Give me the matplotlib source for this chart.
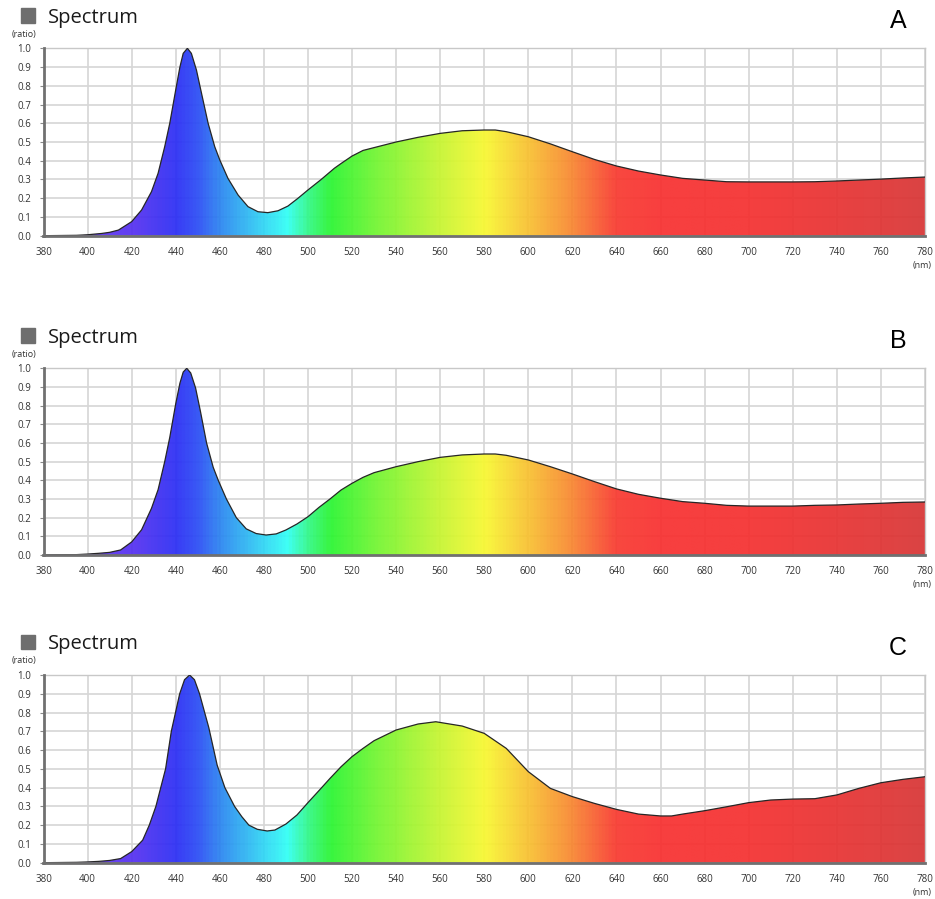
import numpy as np
import matplotlib
matplotlib.use("Agg")
import matplotlib.pyplot as plt
from matplotlib.colors import LinearSegmentedColormap
from matplotlib.patches import Rectangle, Polygon

plt.rcParams['font.family'] = ['Open Sans', 'DejaVu Sans']

# ---------------- data ----------------
wl_a = [380, 395, 400, 406.4, 410, 414, 420, 424.5, 429, 432, 435, 437.3, 440, 441.9, 443.4, 445.3,
        447.1, 449.4, 451.7, 454.7, 457.7, 460, 463.7, 468.3, 472.8, 477.3, 481.8, 486.4, 490.9,
        495.4, 500, 506, 512, 515, 520, 525, 530, 540, 550, 560, 570, 580, 585, 590, 600, 610,
        620, 630, 640, 650, 660, 670, 680, 690, 700, 710, 720, 730, 740, 750, 760, 770, 780]
val_a = [0.0, 0.002, 0.005, 0.012, 0.018, 0.03, 0.075, 0.137, 0.235, 0.333, 0.475, 0.60, 0.778, 0.90, 0.973, 1.0,
         0.973, 0.884, 0.76, 0.60, 0.475, 0.404, 0.306, 0.217, 0.155, 0.128, 0.123, 0.133, 0.158,
         0.199, 0.244, 0.30, 0.36, 0.385, 0.425, 0.455, 0.47, 0.50, 0.525, 0.546, 0.56, 0.564, 0.564, 0.555, 0.528, 0.49,
         0.448, 0.407, 0.372, 0.345, 0.324, 0.306, 0.297, 0.288, 0.287, 0.287, 0.287, 0.288, 0.292, 0.297, 0.302, 0.308, 0.313]

wl_b = [380, 395, 400, 405, 410, 415, 420, 424.5, 429, 432, 435, 437.3, 440, 441.9, 443.4, 445, 446.8,
        449, 451.2, 454, 457, 459.3, 463, 467.5, 472, 476.5, 481, 485.6, 490, 495, 500, 505, 510, 515,
        520, 525, 530, 540, 550, 560, 570, 580, 585, 590, 600, 610, 620, 630, 640, 650, 660, 670, 680,
        690, 700, 710, 720, 730, 740, 750, 760, 770, 780]
val_b = [0.0, 0.002, 0.005, 0.009, 0.014, 0.027, 0.07, 0.135, 0.25, 0.35, 0.50, 0.63, 0.81, 0.92, 0.98, 1.0, 0.975,
         0.895, 0.77, 0.60, 0.47, 0.40, 0.30, 0.20, 0.14, 0.115, 0.107, 0.113, 0.134, 0.166, 0.205, 0.255, 0.30, 0.348,
         0.384, 0.416, 0.441, 0.473, 0.50, 0.523, 0.536, 0.541, 0.541, 0.534, 0.509, 0.473, 0.434, 0.393, 0.354, 0.325, 0.304, 0.286, 0.277,
         0.266, 0.262, 0.262, 0.262, 0.266, 0.268, 0.273, 0.277, 0.282, 0.284]

wl_c = [380, 395, 400, 405, 410, 415, 420, 425, 428, 431, 435.4, 438, 441.8, 444, 446.3, 448.5, 450.8,
        455, 458.8, 462.3, 466.7, 470, 473.2, 477, 481.5, 485, 490, 495, 500, 505, 510, 515, 520, 525,
        530, 540, 550, 558, 570, 580, 590, 600, 610, 620, 630, 640, 650, 660, 665, 670, 680, 690, 700,
        710, 720, 730, 740, 750, 760, 770, 780]
val_c = [0.0, 0.002, 0.004, 0.007, 0.012, 0.022, 0.059, 0.12, 0.2, 0.3, 0.5, 0.7, 0.9, 0.975, 1.0, 0.975, 0.9,
         0.72, 0.52, 0.4, 0.3, 0.245, 0.2, 0.178, 0.169, 0.174, 0.206, 0.254, 0.32, 0.384, 0.449, 0.511, 0.565, 0.609,
         0.65, 0.707, 0.739, 0.751, 0.728, 0.689, 0.609, 0.485, 0.396, 0.352, 0.316, 0.284, 0.259, 0.249, 0.249, 0.259, 0.277, 0.298, 0.32,
         0.334, 0.339, 0.341, 0.361, 0.396, 0.426, 0.444, 0.458]

panels = [("A", wl_a, val_a), ("B", wl_b, val_b), ("C", wl_c, val_c)]

x_ticks = list(range(380, 781, 20))
y_ticks = [round(0.1 * i, 1) for i in range(11)]

# spectral colour stops (nm, colour)
stops_nm = [380, 420, 440, 450, 460, 480, 490, 500, 510, 530, 560, 580, 600, 620, 640, 660, 700, 740, 780]
stops_col = ['#6a3af0', '#5530f0', '#2a2ef5', '#2a50f5', '#2a88f0', '#30d8f5', '#30fff5', '#30f880',
             '#2af530', '#70f530', '#c8f530', '#f8f830', '#f8c030', '#f88530', '#f83a30', '#f83030',
             '#f53030', '#e83232', '#d83535']

cmap = LinearSegmentedColormap.from_list(
    "spec", [((n - 380) / 400.0, c) for n, c in zip(stops_nm, stops_col)])

W, H = 935, 899
fig = plt.figure(figsize=(W / 100, H / 100), dpi=100)

axes_px = [(48.3, 235.7), (368.3, 555.0), (675.0, 862.7)]
left_px, right_px = 43.5, 925.0

for (label, wl, val), (top, bot) in zip(panels, axes_px):
    ax = fig.add_axes([left_px / W, 1 - bot / H, (right_px - left_px) / W, (bot - top) / H])
    ax.set_xlim(380, 780)
    ax.set_ylim(0, 1.0)
    ax.set_xticks(x_ticks)
    ax.set_yticks(y_ticks)
    ax.set_yticklabels([f"{v:.1f}" for v in y_ticks])
    ax.grid(True, color='#d6d6d6', lw=1.2, zorder=0)
    ax.set_axisbelow(True)
    ax.tick_params(axis='x', length=0, pad=8, labelsize=7, labelcolor='#333333')
    ax.tick_params(axis='y', length=3, width=0.8, color='#888888', pad=6, labelsize=7, labelcolor='#333333')
    for s in ['top', 'right']:
        ax.spines[s].set_color('#c8c8c8')
        ax.spines[s].set_linewidth(1.0)
    for s in ['left', 'bottom']:
        ax.spines[s].set_color('#707070')
        ax.spines[s].set_linewidth(2.0)
        ax.spines[s].set_zorder(5)

    # gradient fill clipped to the area under the curve
    grad = np.linspace(0, 1, 800).reshape(1, -1)
    im = ax.imshow(grad, extent=(380, 780, 0, 1), aspect='auto', cmap=cmap,
                   origin='lower', alpha=0.93, zorder=2, interpolation='bilinear')
    verts = [(wl[0], 0)] + list(zip(wl, val)) + [(wl[-1], 0)]
    poly = Polygon(verts, closed=True, facecolor='none', edgecolor='none', transform=ax.transData)
    ax.add_patch(poly)
    im.set_clip_path(poly)
    ax.plot(wl, val, color='#262626', lw=0.9, zorder=3, solid_joinstyle='round')

    # header
    fig.patches.append(Rectangle((20.7 / W, 1 - (top - 25.6) / H), 14.3 / W, 14.3 / H,
                                 transform=fig.transFigure, color='#6e6e6e', figure=fig))
    fig.text(48 / W, 1 - (top - 25.5) / H, "Spectrum", fontsize=14.5, color='#1a1a1a', va='baseline')
    fig.text(24 / W, 1 - (top - 14) / H, "(ratio)", fontsize=6.5, color='#333333', ha='center', va='center')
    fig.text(922 / W, 1 - (bot + 30) / H, "(nm)", fontsize=6.5, color='#333333', ha='center', va='center')
    fig.text(898 / W, 1 - (top - 27) / H, label, fontsize=18, color='black', ha='center', va='center',
             family=['Liberation Sans', 'DejaVu Sans'])

fig.savefig("out.png", dpi=100, facecolor='white')
